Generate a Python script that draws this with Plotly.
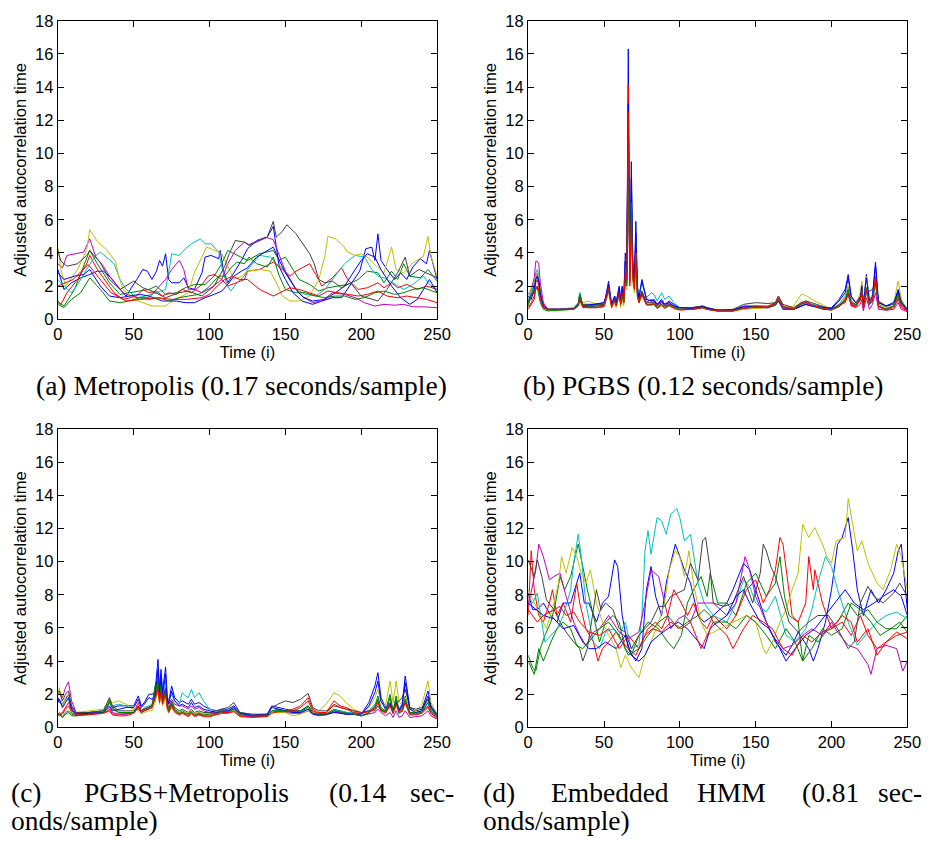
import plotly.graph_objects as go

# ---------------- colours (MATLAB default order, 10 runs) ----------------
LINE_COLORS = ["#0000FF", "#008000", "#FF0000", "#00BFBF", "#BF00BF",
               "#BFBF00", "#404040", "#0000FF", "#008000", "#FF0000"]

# ---------------- (a) Metropolis : (time, value) pairs ----------------
A_BLUE1 = [(0,3.0),(2,2.4),(4,1.8),(9,2.2),(15,2.5),(21,2.7),(26,2.9),(30,2.9),(34,2.6),(41,1.8),(45,1.4),(52,2.4),(56,3.0),(59,2.9),(62,2.4),(65,2.9),(67,3.55),(69,3.2),(71,3.95),(73,2.4),(75,2.2),(80,2.2),(83,2.5),(86,1.9),(90,1.8),(95,2.8),(97,3.75),(101,3.85),(106,3.65),(107,4.15),(109,3.0),(112,2.2),(116,2.8),(121,3.55),(125,4.25),(131,4.75),(138,4.95),(142,5.6),(144,4.35),(146,3.15),(150,2.4),(155,1.6),(161,1.1),(168,0.9),(174,1.1),(181,1.3),(187,1.3),(193,2.1),(199,2.9),(203,4.25),(207,4.35),(209,3.55),(211,5.15),(213,3.55),(217,3.0),(222,2.4),(226,2.8),(230,2.4),(234,3.15),(239,3.65),(243,3.35),(245,4.15),(250,2.4)]
A_GREEN1 = [(0,1.0),(4,0.8),(11,1.8),(17,3.2),(21,4.15),(26,3.35),(30,2.8),(34,2.2),(41,1.5),(47,1.6),(54,1.7),(60,1.8),(65,2.0),(71,1.5),(78,1.6),(84,1.9),(90,2.1),(97,2.1),(103,2.6),(108,3.35),(112,4.15),(116,3.95),(121,3.75),(125,3.55),(133,3.95),(142,4.15),(146,3.55),(150,3.75),(155,3.0),(159,2.4),(166,2.1),(172,1.7),(178,1.9),(185,2.0),(191,2.1),(198,2.4),(204,2.9),(211,2.8),(215,2.2),(220,2.9),(224,2.4),(228,3.35),(232,2.6),(239,2.5),(244,3.0),(250,2.3)]
A_RED1 = [(0,1.1),(2,0.9),(6,1.6),(13,2.4),(19,3.35),(21,3.85),(26,3.0),(32,2.2),(37,1.6),(43,1.2),(52,1.4),(56,1.8),(60,1.6),(65,1.7),(69,1.4),(73,1.6),(78,1.5),(82,1.8),(88,1.6),(95,2.1),(99,2.6),(103,2.7),(108,2.4),(112,2.0),(118,2.2),(123,2.4),(125,2.9),(133,3.0),(142,3.45),(146,3.15),(153,2.6),(157,2.9),(161,3.1),(166,3.35),(170,2.7),(174,2.0),(181,2.5),(187,3.1),(191,2.4),(198,1.8),(204,1.9),(211,2.2),(215,1.9),(220,2.2),(224,1.9),(230,2.1),(237,1.8),(243,2.0),(250,1.8)]
A_CYAN = [(0,2.4),(4,2.0),(9,1.6),(13,2.1),(19,3.0),(24,3.75),(28,4.05),(32,3.75),(37,3.35),(41,2.4),(45,1.8),(52,1.3),(58,1.4),(65,1.6),(71,1.8),(74,3.35),(75,3.95),(80,3.85),(84,4.25),(88,4.55),(94,4.85),(97,4.55),(101,4.55),(106,4.05),(109,2.8),(112,2.0),(114,1.7),(118,2.2),(123,2.6),(125,3.0),(133,3.85),(140,3.75),(144,3.35),(148,3.1),(153,2.4),(157,1.8),(163,1.5),(170,1.4),(176,1.8),(183,2.6),(189,3.35),(196,3.85),(202,3.75),(207,3.0),(211,2.6),(215,2.5),(222,2.1),(228,1.8),(234,2.1),(241,2.6),(245,2.1),(250,1.8)]
A_MAGENTA = [(0,3.35),(3,3.1),(6,3.85),(13,3.95),(17,4.05),(21,4.85),(25,3.75),(30,3.2),(34,2.6),(43,1.6),(52,1.3),(60,1.3),(65,1.8),(71,2.4),(75,3.0),(80,3.55),(83,3.0),(86,1.8),(90,1.8),(95,1.6),(101,1.9),(108,2.4),(112,3.35),(117,4.15),(123,4.65),(126,4.5),(131,4.7),(137,4.95),(142,4.8),(146,3.8),(150,2.9),(157,1.8),(161,1.4),(168,1.0),(174,1.1),(181,1.6),(189,1.5),(196,1.3),(202,1.0),(209,0.8),(215,0.9),(222,0.85),(228,0.9),(234,0.75),(241,0.75),(250,0.7)]
A_YELLOW = [(0,4.35),(2,3.0),(5,2.0),(13,3.0),(19,4.2),(21,5.4),(26,4.7),(32,4.2),(38,3.5),(40,2.6),(43,1.8),(50,1.2),(56,1.0),(62,0.8),(71,0.8),(77,1.2),(82,1.4),(86,1.6),(90,2.8),(95,3.8),(98,4.35),(101,4.25),(108,3.95),(112,3.2),(116,2.4),(121,2.6),(125,2.9),(133,3.0),(140,2.9),(144,2.2),(148,1.4),(153,1.1),(159,1.1),(166,1.4),(172,2.4),(176,3.8),(178,5.0),(183,4.85),(188,4.45),(191,4.05),(196,3.85),(200,3.95),(204,3.75),(210,3.2),(215,2.8),(220,4.35),(223,3.0),(228,2.8),(234,3.4),(241,3.8),(244,5.0),(246,3.8),(250,2.6)]
A_BLACK = [(0,4.15),(2,3.5),(6,3.2),(13,3.35),(19,3.85),(21,4.15),(28,3.4),(34,2.4),(41,1.8),(45,2.0),(50,2.3),(56,1.9),(62,1.7),(71,1.3),(80,1.6),(86,1.7),(95,1.4),(103,2.0),(110,3.2),(113,3.95),(117,4.75),(123,4.65),(126,4.45),(131,4.65),(138,4.95),(142,5.9),(144,4.95),(148,5.3),(151,5.7),(157,5.15),(161,4.65),(166,3.95),(169,3.35),(172,2.4),(176,2.2),(181,2.3),(187,1.9),(193,2.2),(200,1.4),(207,1.2),(211,1.1),(217,1.8),(224,2.8),(229,3.75),(232,2.6),(238,3.0),(243,2.8),(250,2.5)]
A_BLUE2 = [(0,2.8),(4,2.4),(11,2.6),(17,2.7),(21,3.0),(28,2.0),(34,1.4),(41,1.3),(47,1.4),(54,1.5),(60,1.4),(69,1.1),(78,1.1),(84,1.0),(90,1.0),(97,1.3),(103,1.5),(108,1.7),(112,2.1),(116,2.6),(121,2.9),(125,3.1),(131,3.75),(138,4.15),(142,4.35),(146,3.55),(150,2.8),(157,1.8),(162,1.3),(168,1.1),(176,1.2),(183,1.6),(189,2.0),(196,3.0),(200,3.55),(204,3.95),(209,3.75),(213,3.0),(220,2.0),(226,1.3),(232,0.9),(237,1.2),(241,1.8),(245,2.4),(250,1.6)]
A_GREEN2 = [(0,0.9),(4,0.7),(9,1.2),(15,1.6),(21,2.5),(28,1.8),(34,1.1),(41,1.0),(47,1.1),(54,1.3),(60,1.2),(67,1.3),(73,1.1),(80,1.3),(86,1.4),(93,1.5),(99,1.9),(106,2.6),(110,2.6),(114,3.1),(118,3.45),(123,3.35),(126,3.75),(131,3.35),(138,3.15),(142,3.75),(146,2.6),(150,1.8),(157,1.6),(163,1.6),(170,1.4),(176,1.3),(183,1.4),(189,1.4),(196,1.2),(202,1.3),(209,1.6),(215,1.7),(222,1.5),(228,1.6),(234,1.8),(241,1.9),(250,1.6)]
A_RED2 = [(0,2.0),(10,2.4),(20,3.3),(26,2.6),(35,1.6),(45,1.1),(55,1.2),(65,1.3),(75,1.2),(85,1.2),(95,1.3),(100,1.5),(105,2.0),(110,2.4),(115,2.6),(120,2.4),(125,2.4),(133,1.8),(142,1.4),(146,1.6),(153,1.9),(159,1.8),(166,1.6),(172,1.4),(178,1.7),(185,1.6),(191,1.5),(198,1.4),(204,1.5),(211,1.7),(217,1.4),(224,1.3),(230,1.4),(237,1.3),(243,1.2),(250,1.0)]

# ---------------- (b) PGBS : shared time grid ----------------
T_B = [0,2,4,5,6,7,8,10,13,20, 30,33,34,36,40,45,50,51,53,55,
       57,58,60,61,62,63,64,65,66,67, 68,69,70,71,72,73,75,78,81,83,
       85,88,90,93,96,100,108,115,118,125, 135,142,150,158,163,165,168,175,180,183,
       187,195,200,205,209,211,213,216,219,220, 221,223,225,227,229,231,236,241,244,246,
       250]
B_BLUE1 = [1.0,1.6,2.0,2.6,2.8,2.4,1.6,0.9,0.6,0.6, 0.65,0.9,1.3,0.8,0.8,0.9,1.0,1.3,2.3,0.9,
           1.4,1.0,2.0,1.2,2.0,1.3,4.0,3.0,16.3,3.0, 9.5,3.5,2.5,5.9,2.0,1.3,2.4,1.2,1.1,1.2,
           0.9,1.2,0.9,1.1,0.9,0.7,0.7,0.8,0.7,0.55, 0.55,0.8,0.8,0.75,0.9,1.2,0.7,0.6,0.9,1.0,
           0.9,0.7,0.7,1.2,1.8,2.7,1.4,1.0,1.4,2.1, 0.9,2.7,1.1,1.4,3.45,1.0,0.8,1.0,1.8,1.1,
           0.6]
B_GREEN1 = [0.8,1.4,1.6,1.8,2.0,1.7,1.2,0.7,0.55,0.55, 0.6,0.9,1.6,0.8,0.75,0.8,0.8,1.1,1.8,0.8,
            1.2,0.8,1.6,0.9,1.6,1.0,2.5,2.0,11.0,2.5, 7.3,2.5,2.0,4.2,1.5,1.0,1.5,0.9,0.9,0.9,
            0.7,0.9,0.7,0.8,0.7,0.6,0.6,0.7,0.6,0.5, 0.5,0.7,0.7,0.7,0.9,1.2,0.7,0.6,0.8,0.9,
            0.8,0.6,0.6,0.8,1.2,1.9,1.0,0.8,1.2,1.6, 0.7,1.8,0.9,1.1,2.2,0.8,0.6,0.8,1.4,0.9,
            0.55]
B_RED1 = [0.7,1.0,1.4,2.2,2.4,2.0,1.4,0.8,0.6,0.6, 0.6,0.8,1.2,0.7,0.7,0.7,0.8,1.2,2.0,0.8,
          1.3,0.9,1.8,1.0,1.7,1.1,3.0,2.5,14.1,2.2, 6.1,2.8,2.0,4.5,1.6,1.0,1.6,0.9,0.9,1.0,
          0.7,0.9,0.7,0.9,0.7,0.6,0.65,0.75,0.65,0.55, 0.55,0.7,0.8,0.8,1.0,1.4,0.8,0.65,1.0,1.1,
          0.9,0.7,0.6,0.9,1.1,1.6,0.9,0.8,1.3,1.8, 0.7,1.9,1.0,1.2,2.5,0.8,0.6,0.8,1.3,0.8,
          0.5]
B_CYAN = [1.2,1.6,2.2,2.8,3.0,2.6,1.8,0.9,0.6,0.6, 0.7,1.0,1.6,0.9,0.9,0.9,0.9,1.2,1.9,0.9,
          1.3,0.9,1.7,1.0,1.7,1.1,3.2,2.6,12.0,3.0, 7.8,3.0,2.6,4.8,2.0,1.5,2.2,1.3,1.6,1.5,
          1.1,1.6,1.2,1.4,1.0,0.7,0.7,0.7,0.65,0.5, 0.5,0.7,0.75,0.75,0.9,1.2,0.75,0.65,0.9,1.0,
          0.9,0.7,0.65,0.9,1.4,2.0,1.1,0.9,1.1,1.5, 0.8,1.6,0.9,1.3,2.0,0.9,0.7,0.8,1.5,0.9,
          0.6]
B_MAGENTA = [1.5,1.8,2.5,3.5,3.5,3.3,2.2,1.0,0.6,0.6, 0.65,0.9,1.4,0.8,0.8,0.8,0.9,1.2,1.9,0.8,
             1.2,0.8,1.7,0.9,1.6,1.0,2.8,2.2,9.0,2.4, 6.5,2.6,1.9,4.0,1.6,1.2,1.7,1.0,1.2,1.1,
             0.8,1.1,0.8,1.0,0.8,0.6,0.6,0.7,0.6,0.5, 0.5,0.65,0.7,0.7,0.85,1.1,0.7,0.6,0.8,0.9,
             0.8,0.6,0.6,0.8,1.1,1.5,0.8,0.7,0.9,1.2, 0.5,1.3,0.6,0.9,1.6,0.6,0.55,0.6,1.0,0.6,
             0.45]
B_YELLOW = [1.3,1.9,2.0,2.6,2.8,2.5,1.6,0.8,0.55,0.55, 0.65,0.9,1.3,1.0,1.1,0.9,0.8,1.0,1.6,0.7,
            1.0,0.7,1.4,0.7,1.3,0.8,2.0,1.8,8.0,4.5, 7.0,2.2,1.6,3.5,1.4,1.0,1.4,0.9,0.9,0.9,
            0.7,0.9,0.7,0.8,0.7,0.6,0.6,0.7,0.6,0.5, 0.5,0.6,0.65,0.7,0.85,1.1,0.7,0.8,1.5,1.45,
            1.2,0.8,0.6,0.8,1.3,2.0,1.0,0.9,1.6,2.3, 0.8,2.6,1.2,1.5,2.0,0.9,0.7,1.0,2.3,1.2,
            0.6]
B_BLACK = [1.1,1.5,1.8,2.4,2.6,2.3,1.5,0.8,0.6,0.6, 0.65,0.9,1.4,0.9,0.9,0.9,0.9,1.2,1.8,0.9,
           1.2,0.9,1.6,1.0,1.5,1.0,2.6,2.2,12.0,2.8, 7.5,2.8,2.2,4.3,1.6,1.1,1.7,1.0,1.0,1.0,
           0.8,1.0,0.8,0.9,0.8,0.7,0.7,0.8,0.7,0.55, 0.6,0.9,1.0,0.95,1.0,1.4,0.9,0.7,1.0,1.1,
           1.0,0.75,0.65,0.8,1.2,1.6,1.0,0.9,1.2,1.7, 1.0,1.6,1.7,1.8,2.2,1.1,0.8,0.9,1.6,1.0,
           0.6]
B_BLUE2 = [1.4,1.2,1.8,2.4,2.6,2.3,1.5,0.8,0.6,0.6, 0.6,0.85,1.2,0.8,0.85,0.9,1.0,1.3,2.1,0.9,
           1.4,1.0,1.9,1.1,1.9,1.2,3.5,2.8,13.0,2.8, 8.5,3.2,2.4,5.2,1.9,1.3,2.3,1.2,1.1,1.1,
           0.9,1.1,0.9,1.0,0.8,0.7,0.65,0.75,0.65,0.55, 0.55,0.75,0.75,0.7,0.85,1.1,0.6,0.6,0.8,0.9,
           0.8,0.7,0.65,1.1,1.6,2.5,1.3,1.0,1.3,2.0, 0.9,2.5,1.1,1.3,3.2,1.0,0.8,1.0,1.7,1.0,
           0.6]
B_GREEN2 = [0.9,1.5,1.7,1.9,1.9,1.5,1.0,0.6,0.5,0.55, 0.6,0.9,1.5,0.8,0.8,0.8,0.85,1.1,1.7,0.8,
            1.1,0.8,1.5,0.9,1.5,1.0,2.4,2.0,10.0,2.4, 7.0,2.4,1.9,4.0,1.4,1.0,1.5,0.9,0.9,0.9,
            0.7,0.9,0.7,0.85,0.7,0.6,0.6,0.7,0.6,0.5, 0.5,0.7,0.75,0.7,0.9,1.2,0.75,0.6,0.9,1.0,
            0.85,0.6,0.55,0.75,1.1,1.8,1.0,0.8,1.2,1.7, 0.8,1.9,0.9,1.2,2.3,0.8,0.6,0.8,1.5,0.9,
            0.55]
B_RED2 = [0.6,0.9,1.2,1.8,2.0,1.8,1.2,0.7,0.6,0.6, 0.6,0.8,1.2,0.75,0.7,0.7,0.75,1.1,1.9,0.7,
          1.2,0.8,1.6,0.9,1.6,1.0,2.8,2.4,12.5,2.0, 6.0,2.6,1.8,4.0,1.5,1.0,1.5,0.85,0.85,0.9,
          0.65,0.85,0.65,0.85,0.65,0.55,0.6,0.7,0.6,0.5, 0.5,0.65,0.75,0.75,0.95,1.3,0.75,0.6,0.95,1.0,
          0.85,0.65,0.55,0.85,1.0,1.5,0.85,0.75,1.2,1.7, 0.65,1.8,0.9,1.1,2.6,0.75,0.55,0.7,1.2,0.7,
          0.5]

# ---------------- (c) PGBS+Metropolis : shared time grid ----------------
T_C = [0,1,3,5,7,9,12,20,30,33, 34,36,40,45,50,53,55,57,60,62,
       64,66,67,68,69,71,72,73,75,77, 80,82,84,86,88,90,93,96,100,105,
       108,112,116,120,128,138,141,145,150,155, 160,165,168,172,177,182,186,190,195,200,
       205,209,211,213,216,219,221,223,225,227, 229,232,236,240,244,246,250]
C_BLUE1 = [1.8,1.5,1.4,1.7,2.0,1.2,0.85,0.9,1.0,1.4, 1.5,1.2,1.3,1.3,1.3,1.9,1.3,1.5,2.0,2.0,
           2.1,4.1,2.3,3.5,2.2,3.65,2.0,1.5,2.5,1.8, 1.5,1.6,1.5,1.4,1.7,1.4,1.5,1.3,1.1,1.0,
           1.1,1.1,1.3,0.9,0.75,0.8,1.3,1.2,1.1,1.0, 1.0,1.3,0.9,0.8,0.8,1.0,0.9,0.8,0.8,0.8,
           1.5,2.5,3.3,1.8,1.2,1.5,1.0,1.6,1.1,1.4, 3.1,1.2,1.0,1.1,2.2,1.3,0.8]
C_GREEN1 = [0.8,0.9,0.6,0.9,1.0,0.8,0.7,0.8,0.9,1.4, 1.7,1.2,0.9,0.9,0.9,1.3,1.0,1.1,1.2,1.3,
            2.5,3.0,1.8,2.8,1.6,2.3,1.4,1.1,1.5,1.1, 0.9,1.0,0.9,0.8,1.0,0.8,0.9,0.8,0.8,0.9,
            1.0,1.0,1.2,0.8,0.7,0.7,1.0,1.1,1.0,1.0, 1.0,1.3,0.9,0.8,0.8,1.1,1.0,0.9,0.8,0.7,
            0.9,1.3,1.9,1.2,1.0,2.0,1.0,1.9,1.0,1.2, 1.9,0.9,0.9,1.0,1.7,1.1,0.7]
C_RED1 = [0.8,0.8,0.9,1.2,1.5,1.0,0.8,0.8,0.9,1.0, 1.1,0.8,0.8,0.8,0.9,1.5,1.0,1.1,1.2,1.3,
          1.8,2.5,1.6,2.3,1.5,2.2,1.3,1.0,1.4,1.0, 0.8,0.9,0.8,0.7,0.9,0.7,0.8,0.7,0.7,0.8,
          0.9,0.9,1.0,0.7,0.65,0.7,0.9,1.0,1.0,1.1, 1.3,1.8,1.1,0.9,0.9,1.6,1.3,1.2,1.0,0.9,
          1.0,1.2,1.6,1.1,0.9,1.4,0.9,1.5,1.0,1.0, 1.6,0.8,0.8,0.9,1.3,0.9,0.6]
C_CYAN = [1.6,1.5,1.4,1.6,1.7,1.1,0.9,0.9,1.0,1.3, 1.5,1.3,1.4,1.3,1.1,1.2,1.0,1.2,1.3,1.4,
          2.0,3.2,2.0,2.6,1.8,2.8,1.8,1.6,2.0,1.6, 1.4,2.1,1.9,1.8,2.3,1.8,2.1,1.6,1.1,1.0,
          1.1,1.0,1.1,0.8,0.7,0.7,1.0,1.0,1.0,0.9, 0.9,1.1,0.9,0.8,0.8,1.0,1.0,0.9,0.9,0.8,
          1.0,1.4,1.7,1.1,0.9,1.3,0.8,1.4,0.8,1.0, 1.5,0.8,0.8,0.9,1.5,1.0,0.7]
C_MAGENTA = [2.0,2.1,1.8,2.4,2.75,1.6,0.9,0.85,0.9,1.1, 1.2,0.9,0.8,0.8,0.9,1.1,0.9,1.0,1.1,1.2,
             1.8,2.5,1.9,2.4,1.8,2.4,1.6,1.4,1.7,1.4, 1.3,1.3,1.2,1.1,1.3,1.1,1.2,1.0,0.9,0.9,
             1.0,0.9,1.0,0.75,0.65,0.7,0.9,0.9,0.9,0.85, 0.85,1.0,0.8,0.7,0.75,0.9,0.9,0.8,0.8,0.7,
             0.8,0.9,1.1,0.9,0.7,0.9,0.6,1.0,0.6,0.7, 1.0,0.6,0.65,0.7,1.0,0.7,0.5]
C_YELLOW = [2.0,2.4,1.2,1.8,2.0,1.3,0.9,1.0,1.1,1.5, 1.6,1.5,1.6,1.4,1.1,1.0,0.8,0.9,1.0,1.0,
            1.5,2.2,1.4,2.0,1.3,1.8,1.1,0.9,1.2,1.0, 0.9,0.9,0.9,0.8,0.9,0.8,0.9,0.8,0.8,0.9,
            1.0,1.0,1.0,0.75,0.7,0.75,0.9,0.9,0.9,0.7, 0.8,1.0,0.9,1.0,1.4,2.1,1.9,1.5,1.1,0.9,
            1.2,1.8,2.3,1.5,1.3,2.8,1.5,2.8,1.5,1.4, 1.8,1.1,1.0,1.4,2.8,1.5,0.8]
C_BLACK = [2.1,2.2,1.6,2.0,2.2,1.3,0.9,0.9,1.0,1.6, 1.8,1.3,1.0,1.0,1.0,1.2,1.0,1.1,1.2,1.3,
           2.0,2.8,1.8,2.5,1.6,2.3,1.5,1.2,1.6,1.2, 1.0,1.1,1.0,0.9,1.1,0.9,1.0,0.9,0.9,1.0,
           1.1,1.2,1.5,0.9,0.8,0.8,1.2,1.4,1.6,1.5, 1.7,2.05,1.2,1.0,1.0,1.3,1.2,1.1,1.0,0.9,
           1.0,1.0,1.3,1.0,1.0,1.3,1.1,1.4,1.6,1.8, 2.3,1.2,1.1,1.2,1.7,1.2,0.8]
C_BLUE2 = [1.5,1.7,1.2,1.5,1.8,1.1,0.8,0.85,0.9,1.2, 1.3,1.0,1.1,1.2,1.2,1.7,1.2,1.4,1.8,1.7,
           1.9,3.5,2.1,3.0,2.0,3.2,1.8,1.4,2.2,1.6, 1.3,1.4,1.3,1.2,1.5,1.2,1.3,1.1,1.0,0.9,
           1.0,1.0,1.2,0.85,0.7,0.75,1.2,1.1,1.0,0.9, 0.9,1.1,0.8,0.75,0.8,0.9,0.85,0.8,0.8,0.8,
           1.3,2.1,2.8,1.6,1.1,1.4,1.0,1.5,1.0,1.3, 2.7,1.1,0.9,1.0,1.9,1.2,0.7]
C_GREEN2 = [0.7,0.8,0.6,0.8,0.9,0.7,0.7,0.8,0.9,1.3, 1.6,1.1,0.9,0.85,0.9,1.2,0.9,1.0,1.1,1.2,
            2.2,2.7,1.7,2.5,1.5,2.1,1.3,1.0,1.4,1.0, 0.85,0.9,0.85,0.8,0.9,0.75,0.85,0.75,0.8,0.85,
            0.95,0.95,1.1,0.75,0.7,0.7,1.0,1.0,1.0,0.95, 0.95,1.2,0.85,0.8,0.8,1.0,0.95,0.9,0.8,0.7,
            0.85,1.2,1.7,1.1,0.9,1.8,0.9,1.7,0.9,1.1, 1.7,0.85,0.85,0.9,1.5,1.0,0.65]
C_RED2 = [0.75,0.7,0.8,1.1,1.3,0.9,0.75,0.75,0.85,0.95, 1.0,0.75,0.7,0.7,0.85,1.3,0.9,1.0,1.1,1.2,
          1.7,2.3,1.5,2.1,1.4,2.0,1.2,0.9,1.3,0.9, 0.75,0.85,0.75,0.65,0.85,0.65,0.75,0.65,0.65,0.75,
          0.85,0.85,0.95,0.65,0.6,0.65,0.85,0.95,0.95,1.0, 1.2,1.6,1.0,0.85,0.85,1.4,1.2,1.1,0.9,0.85,
          0.95,1.1,1.5,1.0,0.85,1.3,0.85,1.4,0.9,0.95, 1.5,0.75,0.75,0.85,1.2,0.85,0.55]

# ---------------- (d) Embedded HMM : (time, value) pairs ----------------
D_BLUE1 = [(0,8.1),(3,7.1),(6,7.1),(10,7.5),(15,6.75),(19,6.35),(23,7.5),(28,7.5),(32,8.7),(34,9.3),(37,7.5),(40,7.5),(45,6.35),(49,7.5),(53,7.9),(57,10.1),(59,9.7),(62,6.75),(66,4.75),(71,4.0),(75,4.75),(78,8.3),(81,9.7),(84,7.9),(88,6.75),(91,8.7),(94,9.9),(97,11.05),(100,10.3),(103,9.5),(107,8.7),(112,6.75),(116,6.35),(122,6.75),(131,7.5),(135,8.3),(142,9.9),(146,9.5),(150,8.3),(157,6.35),(163,5.15),(170,4.35),(174,4.95),(178,5.75),(185,4.75),(188,4.0),(191,4.75),(196,6.35),(200,8.3),(204,11.05),(207,11.45),(211,12.65),(214,10.65),(217,8.3),(221,6.75),(226,8.3),(231,7.5),(236,8.3),(241,9.3),(244,10.65),(246,11.05),(250,7.1)]
D_GREEN1 = [(0,4.35),(3,3.6),(5,3.4),(8,4.75),(11,5.55),(15,6.35),(18,7.5),(21,9.1),(24,8.3),(28,9.1),(31,10.3),(33,11.05),(36,9.7),(39,8.3),(43,6.75),(47,5.15),(51,6.35),(56,6.75),(60,6.35),(64,4.75),(68,4.35),(73,5.55),(79,6.35),(86,5.95),(92,5.15),(96,4.75),(101,5.55),(105,7.5),(109,8.3),(114,9.1),(118,7.9),(120,9.3),(125,7.5),(131,7.5),(137,6.75),(144,8.7),(150,9.3),(157,7.9),(163,8.7),(166,10.3),(169,7.9),(172,6.75),(178,6.35),(181,4.0),(185,5.55),(191,5.15),(198,5.95),(204,6.35),(211,7.5),(217,6.75),(224,7.1),(230,6.35),(236,5.95),(243,5.95),(250,6.75)]
D_RED1 = [(0,6.75),(2,10.65),(4,8.3),(7,6.75),(10,6.35),(14,7.5),(16,8.3),(19,6.75),(23,7.5),(28,6.35),(32,8.7),(34,7.5),(38,5.95),(43,5.15),(46,4.0),(49,4.75),(53,5.15),(58,5.75),(62,5.15),(66,4.75),(71,4.35),(75,5.15),(79,5.95),(84,6.35),(88,5.95),(92,6.75),(96,8.3),(101,7.5),(105,6.75),(109,7.5),(114,6.35),(118,5.95),(122,6.75),(131,5.95),(137,6.75),(144,8.3),(150,8.9),(155,7.5),(159,8.3),(163,9.5),(166,11.45),(168,11.05),(170,9.5),(174,6.75),(178,6.35),(183,7.5),(185,10.3),(188,8.3),(189,9.5),(194,7.5),(200,5.95),(207,6.35),(213,5.55),(219,6.75),(224,5.55),(230,4.75),(236,5.15),(243,5.55),(250,5.75)]
D_CYAN = [(0,7.9),(3,7.5),(6,8.1),(9,6.3),(11,5.15),(15,5.55),(19,5.95),(23,6.7),(28,8.3),(30,9.9),(33,11.65),(35,10.3),(38,7.5),(43,5.15),(47,4.75),(51,5.75),(56,5.95),(60,5.55),(64,6.35),(68,4.75),(73,4.95),(75,6.75),(77,10.65),(79,11.85),(81,10.45),(85,12.65),(88,12.45),(91,11.65),(94,12.85),(98,13.2),(100,12.65),(103,11.25),(107,11.65),(112,8.7),(116,7.5),(122,6.75),(131,6.35),(137,7.5),(142,8.9),(146,8.5),(150,7.5),(157,6.95),(163,7.9),(170,5.55),(176,5.15),(183,5.95),(187,7.1),(191,8.7),(196,10.3),(200,9.7),(204,8.3),(211,6.35),(217,4.95),(224,5.75),(230,6.35),(236,6.75),(243,6.95),(250,6.55)]
D_MAGENTA = [(0,7.3),(5,9.5),(7,11.05),(10,10.3),(14,8.9),(17,9.1),(21,9.3),(25,7.9),(30,6.35),(34,5.55),(38,4.95),(43,5.75),(47,5.95),(53,6.75),(60,5.75),(66,5.35),(73,5.75),(77,7.5),(81,9.5),(86,9.1),(90,7.5),(94,5.95),(99,6.55),(103,6.75),(107,6.35),(112,7.5),(116,7.5),(122,7.5),(131,6.75),(137,7.5),(143,10.3),(146,9.5),(150,7.9),(155,6.75),(161,5.55),(168,4.75),(174,4.95),(181,5.55),(187,5.95),(194,5.55),(200,6.35),(204,5.75),(211,4.95),(217,4.75),(224,3.8),(226,3.2),(230,4.75),(236,4.95),(243,4.75),(247,3.4),(250,4.0)]
D_YELLOW = [(0,8.3),(4,7.5),(8,6.75),(12,5.95),(17,7.5),(20,8.7),(22,10.3),(25,9.3),(29,10.85),(32,10.3),(35,9.3),(38,8.7),(41,9.5),(45,7.5),(49,6.35),(53,5.55),(58,4.75),(61,3.6),(64,4.35),(68,3.6),(73,3.0),(77,4.35),(81,5.15),(86,6.35),(90,7.5),(93,9.5),(97,10.65),(100,10.3),(103,9.1),(106,10.65),(109,8.7),(114,6.35),(118,5.55),(127,5.95),(135,6.35),(144,6.75),(150,6.35),(155,4.75),(157,4.45),(161,5.15),(166,6.35),(170,7.1),(174,8.3),(178,9.3),(181,12.25),(185,11.45),(189,12.05),(194,11.05),(197,10.3),(200,9.9),(203,11.25),(209,11.45),(211,13.8),(214,12.25),(217,10.65),(220,11.25),(224,9.9),(230,8.7),(234,8.3),(239,9.5),(243,11.05),(246,10.3),(250,8.3)]
D_BLACK = [(0,10.1),(4,9.1),(6,10.1),(9,9.1),(12,7.7),(17,7.1),(21,6.35),(25,5.75),(30,5.15),(34,4.75),(36,4.0),(39,4.75),(43,7.1),(45,8.3),(48,7.1),(51,7.5),(56,7.1),(60,5.95),(64,5.75),(68,4.75),(73,5.55),(77,5.95),(81,6.35),(86,7.3),(90,7.3),(94,7.9),(99,8.1),(103,8.3),(107,9.9),(112,8.9),(115,11.25),(117,11.45),(120,9.5),(122,7.5),(129,7.3),(135,7.5),(142,9.1),(148,7.5),(153,9.3),(155,11.05),(157,10.65),(160,9.7),(163,9.1),(168,7.5),(172,6.35),(178,5.75),(185,6.35),(191,6.75),(198,6.75),(204,5.95),(211,4.75),(215,5.15),(219,7.5),(224,8.5),(228,7.9),(234,7.5),(241,8.1),(245,8.7),(250,7.9)]
D_BLUE2 = [(0,7.5),(5,7.1),(10,6.75),(17,6.55),(23,5.95),(30,6.15),(36,5.15),(40,4.75),(45,4.75),(51,5.15),(58,4.75),(64,5.55),(68,4.35),(73,4.0),(77,4.35),(81,5.15),(86,5.55),(92,5.95),(99,6.35),(105,5.95),(112,5.15),(116,4.75),(120,5.95),(122,6.15),(131,6.75),(137,7.9),(142,8.3),(146,7.5),(153,6.35),(159,5.95),(166,4.75),(170,4.0),(176,4.75),(183,5.55),(189,5.95),(196,6.75),(202,7.5),(209,8.3),(215,7.5),(221,7.1),(228,7.5),(234,7.9),(241,8.3),(246,7.9),(250,6.75)]
D_GREEN2 = [(0,4.0),(4,3.2),(7,4.75),(10,4.0),(15,5.15),(19,5.95),(23,6.35),(28,5.95),(32,4.95),(36,4.75),(40,5.15),(47,5.95),(53,6.35),(60,5.55),(66,4.35),(73,4.75),(79,5.55),(86,6.35),(92,6.75),(99,5.95),(105,6.35),(112,6.75),(116,7.1),(120,6.75),(122,6.35),(131,6.35),(137,5.95),(144,6.75),(150,6.35),(157,5.55),(163,4.75),(170,5.95),(176,5.15),(181,4.0),(187,4.75),(194,5.95),(200,5.55),(207,5.95),(213,7.5),(219,7.1),(226,6.35),(232,5.55),(239,5.95),(245,6.35),(250,5.75)]
D_RED2 = [(0,7.1),(6,6.35),(10,6.75),(17,7.1),(21,7.3),(25,6.75),(30,6.95),(34,6.35),(40,5.75),(47,5.55),(53,5.95),(60,4.75),(66,5.55),(73,4.75),(77,5.55),(82,5.95),(88,5.75),(94,6.35),(101,5.95),(107,6.35),(114,4.75),(116,5.15),(120,5.95),(122,6.35),(131,5.55),(135,4.75),(142,5.95),(148,6.75),(155,6.35),(161,5.95),(168,4.75),(174,4.35),(181,5.55),(187,5.15),(194,5.75),(200,5.95),(207,6.75),(213,6.35),(217,5.15),(224,5.95),(230,4.35),(236,5.15),(243,5.75),(250,5.35)]

# ---------------- text ----------------
X_TICKS = [0, 50, 100, 150, 200, 250]
Y_TICKS = [0, 2, 4, 6, 8, 10, 12, 14, 16, 18]
X_TITLE = "Time (i)"
Y_TITLE = "Adjusted autocorrelation time"

# ---------------- figure ----------------
W, H = 938, 848
fig = go.Figure()

def pairs(p):
    return [a for a, _ in p], [b for _, b in p]

panels = [
    ("x", "y", [pairs(s) for s in [A_BLUE1, A_GREEN1, A_RED1, A_CYAN, A_MAGENTA,
                                    A_YELLOW, A_BLACK, A_BLUE2, A_GREEN2, A_RED2]]),
    ("x2", "y2", [(T_B, s) for s in [B_BLUE1, B_GREEN1, B_RED1, B_CYAN, B_MAGENTA,
                                      B_YELLOW, B_BLACK, B_BLUE2, B_GREEN2, B_RED2]]),
    ("x3", "y3", [(T_C, s) for s in [C_BLUE1, C_GREEN1, C_RED1, C_CYAN, C_MAGENTA,
                                      C_YELLOW, C_BLACK, C_BLUE2, C_GREEN2, C_RED2]]),
    ("x4", "y4", [pairs(s) for s in [D_BLUE1, D_GREEN1, D_RED1, D_CYAN, D_MAGENTA,
                                      D_YELLOW, D_BLACK, D_BLUE2, D_GREEN2, D_RED2]]),
]
for xa, ya, series in panels:
    for i, (tx, vy) in enumerate(series):
        fig.add_trace(go.Scatter(x=tx, y=vy, mode="lines", xaxis=xa, yaxis=ya,
                                 line=dict(color=LINE_COLORS[i], width=1),
                                 showlegend=False, hoverinfo="skip"))

def px_x(a, b):
    return [a / W, b / W]

def px_y(top, bottom):
    return [1 - bottom / H, 1 - top / H]

TICKFONT = dict(family="Liberation Sans, Arial, sans-serif", size=16.5, color="black")
TITLEFONT = dict(family="Liberation Sans, Arial, sans-serif", size=16.5, color="black")
def xaxis(dom, anchor):
    return dict(domain=dom, anchor=anchor, range=[0, 250], tickvals=X_TICKS,
                showline=True, linecolor="black", linewidth=1.3, mirror="ticks",
                ticks="inside", ticklen=6, tickwidth=1.2, tickcolor="black",
                showgrid=False, zeroline=False, tickfont=TICKFONT,
                title=dict(text=X_TITLE, font=TITLEFONT, standoff=0))
def yaxis(dom, anchor):
    return dict(domain=dom, anchor=anchor, range=[0, 18], tickvals=Y_TICKS,
                showline=True, linecolor="black", linewidth=1.3, mirror="ticks",
                ticks="inside", ticklen=6, tickwidth=1.2, tickcolor="black",
                showgrid=False, zeroline=False, tickfont=TICKFONT,
                title=dict(text=Y_TITLE, font=TITLEFONT, standoff=4))

XA_L, XA_R = px_x(54, 441), px_x(534, 921)
YA_T, YA_B = px_y(12, 317), px_y(429, 734)

fig.update_layout(
    width=W, height=H, margin=dict(l=0, r=0, t=0, b=0),
    paper_bgcolor="white", plot_bgcolor="white",
    xaxis=xaxis(XA_L, "y"), yaxis=yaxis(YA_T, "x"),
    xaxis2=xaxis(XA_R, "y2"), yaxis2=yaxis(YA_T, "x2"),
    xaxis3=xaxis(XA_L, "y3"), yaxis3=yaxis(YA_B, "x3"),
    xaxis4=xaxis(XA_R, "y4"), yaxis4=yaxis(YA_B, "x4"),
)

CAPFONT = dict(family="Liberation Serif, Times New Roman, serif", size=27.5, color="black")
def cap(text, x, y, anchor="left"):
    fig.add_annotation(text=text, x=x / W, y=1 - y / H, xref="paper", yref="paper",
                       xanchor=anchor, yanchor="middle", showarrow=False, font=CAPFONT)

cap("(a) Metropolis (0.17 seconds/sample)", 241, 385, "center")
cap("(b) PGBS (0.12 seconds/sample)", 713, 385, "center")
for word, x, anc in [("(c)", 4, "left"), ("PGBS+Metropolis", 79, "left"),
                     ("(0.14", 329, "left"), ("sec-", 460, "right")]:
    cap(word, x, 800, anc)
cap("onds/sample)", 4, 829)
for word, x, anc in [("(d)", 486, "left"), ("Embedded", 555, "left"), ("HMM", 704, "left"),
                     ("(0.81", 811, "left"), ("sec-", 938, "right")]:
    cap(word, x, 800, anc)
cap("onds/sample)", 486, 829)

fig.write_html("out.html")
